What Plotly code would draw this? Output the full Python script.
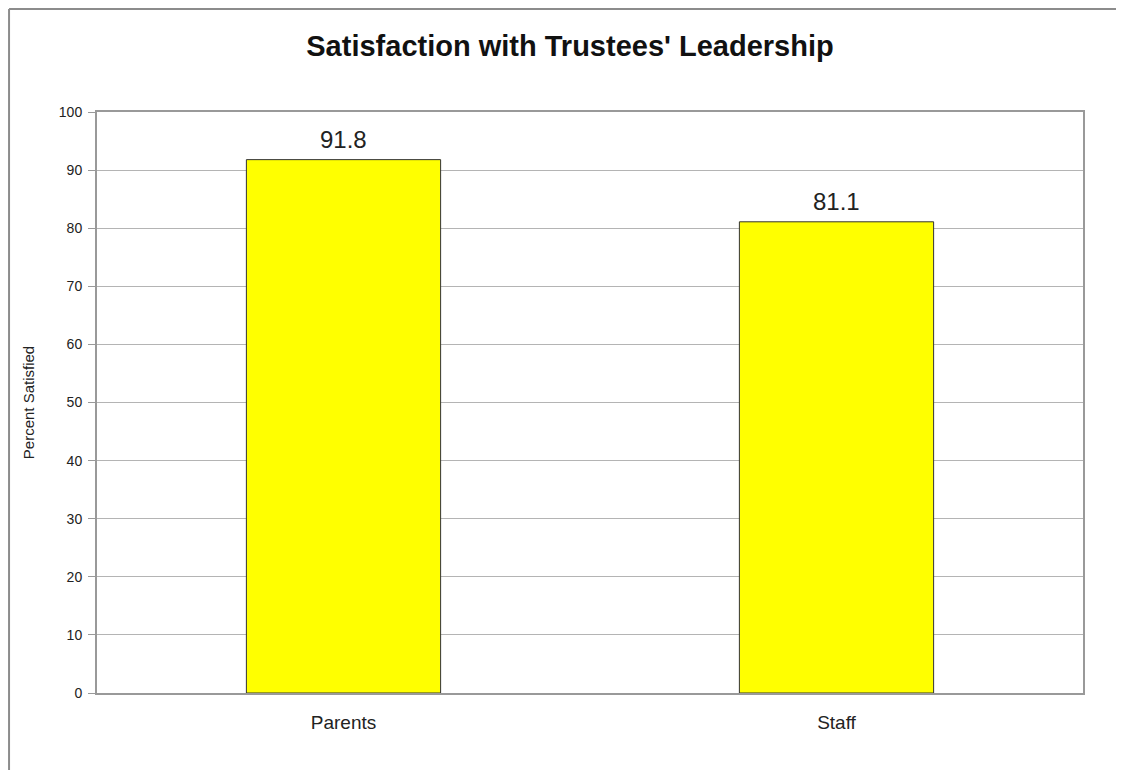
import plotly.graph_objects as go

groups = ["Parents", "Staff"]
satisfied = [91.8, 81.1]
y_ticks = [0, 10, 20, 30, 40, 50, 60, 70, 80, 90, 100]

fig = go.Figure()
fig.add_trace(go.Bar(
    x=groups, y=satisfied,
    marker=dict(color="#ffff00", line=dict(color="#333333", width=1)),
    width=0.394,
))

# value labels above the bars
for g, v in zip(groups, satisfied):
    fig.add_annotation(x=g, y=v, text=f"{v:.1f}", showarrow=False,
                       yanchor="bottom", yshift=5,
                       font=dict(size=24, color="#222222"))

# outer chart frame (only left and top edges visible)
fig.add_shape(type="line", xref="paper", yref="paper",
              x0=-0.0892, x1=1.1, y0=1.1773, y1=1.1773,
              line=dict(color="#8c8c8c", width=2))
fig.add_shape(type="line", xref="paper", yref="paper",
              x0=-0.0892, x1=-0.0892, y0=1.1773, y1=-0.2,
              line=dict(color="#8c8c8c", width=2))

fig.update_layout(
    width=1124, height=770,
    margin=dict(l=89, r=49, t=104, b=85),
    paper_bgcolor="white", plot_bgcolor="white",
    font=dict(family="Liberation Sans, Arial", color="#222222"),
    title=dict(text="<b>Satisfaction with Trustees' Leadership</b>",
               x=0.5, xanchor="center", y=0.951, yanchor="middle",
               font=dict(size=29, color="#111111")),
    showlegend=False,
)
fig.update_yaxes(
    range=[0, 100], tickvals=y_ticks, showgrid=True, gridcolor="#b4b4b4", gridwidth=1,
    showline=True, linecolor="#999999", linewidth=2, mirror=True,
    ticks="outside", ticklen=7, tickcolor="#999999", ticklabelstandoff=3,
    tickfont=dict(size=14, color="#222222"),
    title=dict(text="Percent Satisfied", font=dict(size=15, color="#222222"), standoff=21),
    zeroline=False,
)
fig.update_xaxes(
    showline=True, linecolor="#999999", linewidth=2, mirror=True,
    ticks="", ticklabelstandoff=11, tickfont=dict(size=19, color="#222222"),
)

fig.write_html("out.html")
